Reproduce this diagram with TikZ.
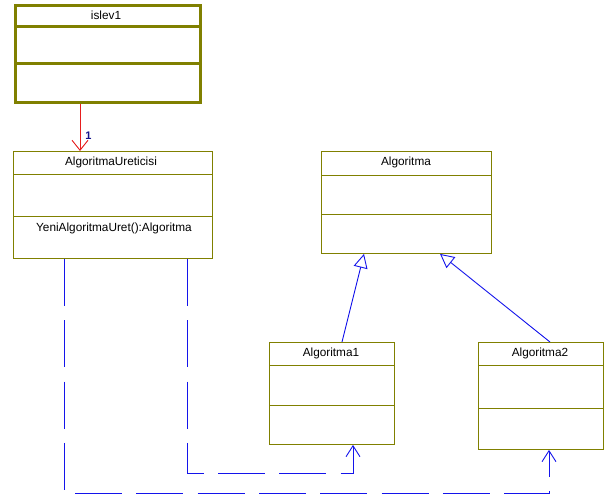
\documentclass[tikz,border=0pt]{standalone}
\usepackage{fontspec}
\setmainfont{Liberation Sans}
\usetikzlibrary{arrows.meta}

\definecolor{umlolive}{RGB}{128,128,0}
\definecolor{umlblue}{RGB}{20,20,235}
\definecolor{umlred}{RGB}{230,30,30}
\definecolor{umlnavy}{RGB}{20,20,140}

\begin{document}
\begin{tikzpicture}[x=1pt,y=-1pt,
  classbox/.style={draw=umlolive,line width=0.9pt,inner sep=0pt,anchor=north west},
  classname/.style={font=\fontsize{11.8}{13}\selectfont,inner sep=0pt},
  gen/.style={umlblue,line width=0.9pt,-{Triangle[open,length=14pt,width=14pt,fill=white,line width=0.9pt]}},
  dep/.style={umlblue,line width=0.9pt,dash pattern=on 47pt off 14.3pt,-{Straight Barb[length=11pt,width=14pt,line width=0.9pt]}}]

\useasboundingbox (0,0) rectangle (605,500);

% islev1
\node[classbox,line width=3pt,minimum width=185pt,minimum height=97pt] (islev) at (14,4) {};
\draw[umlolive,line width=3pt] (islev.west |- 0,27) -- (islev.east |- 0,27);
\draw[umlolive,line width=3pt] (islev.west |- 0,64) -- (islev.east |- 0,64);
\node[classname] (islevname) at (106,15) {islev1};

% AlgoritmaUreticisi
\node[classbox,minimum width=199pt,minimum height=107pt] (ureticisi) at (13,151) {};
\draw[umlolive,line width=0.9pt] (ureticisi.west |- 0,174) -- (ureticisi.east |- 0,174);
\draw[umlolive,line width=0.9pt] (ureticisi.west |- 0,216) -- (ureticisi.east |- 0,216);
\node[classname] (ureticisiname) at (111,162) {AlgoritmaUreticisi};
\node[classname] (ureticisiop) at (114,228) {YeniAlgoritmaUret():Algoritma};

% Algoritma
\node[classbox,minimum width=170pt,minimum height=102pt] (algo) at (321,151) {};
\draw[umlolive,line width=0.9pt] (algo.west |- 0,175) -- (algo.east |- 0,175);
\draw[umlolive,line width=0.9pt] (algo.west |- 0,214) -- (algo.east |- 0,214);
\node[classname] (algoname) at (406,162) {Algoritma};

% Algoritma1
\node[classbox,minimum width=125pt,minimum height=102pt] (algo1) at (269,342) {};
\draw[umlolive,line width=0.9pt] (algo1.west |- 0,365) -- (algo1.east |- 0,365);
\draw[umlolive,line width=0.9pt] (algo1.west |- 0,405) -- (algo1.east |- 0,405);
\node[classname] (algo1name) at (331,353) {Algoritma1};

% Algoritma2
\node[classbox,minimum width=125pt,minimum height=107pt] (algo2) at (478,342) {};
\draw[umlolive,line width=0.9pt] (algo2.west |- 0,365) -- (algo2.east |- 0,365);
\draw[umlolive,line width=0.9pt] (algo2.west |- 0,408) -- (algo2.east |- 0,408);
\node[classname] (algo2name) at (540,353) {Algoritma2};

% association
\draw[umlred,line width=0.9pt,-{Straight Barb[length=10pt,width=16pt,line width=0.9pt]}] (islev.south -| 80,0) -- (ureticisi.north -| 80,0);
\node[font=\bfseries\fontsize{11}{12}\selectfont,text=umlnavy,inner sep=0pt] (mult) at (88.5,136) {1};

% generalization
\draw[gen] (algo1.north -| 342,0) -- (algo.south -| 364,0);
\draw[gen] (algo2.north -| 550,0) -- (algo.south -| 440,0);

% dependencies
\coordinate (bend1) at (353,473);
\coordinate (bend2) at (549,493);
\draw[dep] (ureticisi.south -| 187,0) |- (bend1) -- (algo1.south -| bend1);
\draw[dep] (ureticisi.south -| 64,0) |- (bend2) -- (algo2.south -| bend2);

\end{tikzpicture}
\end{document}
